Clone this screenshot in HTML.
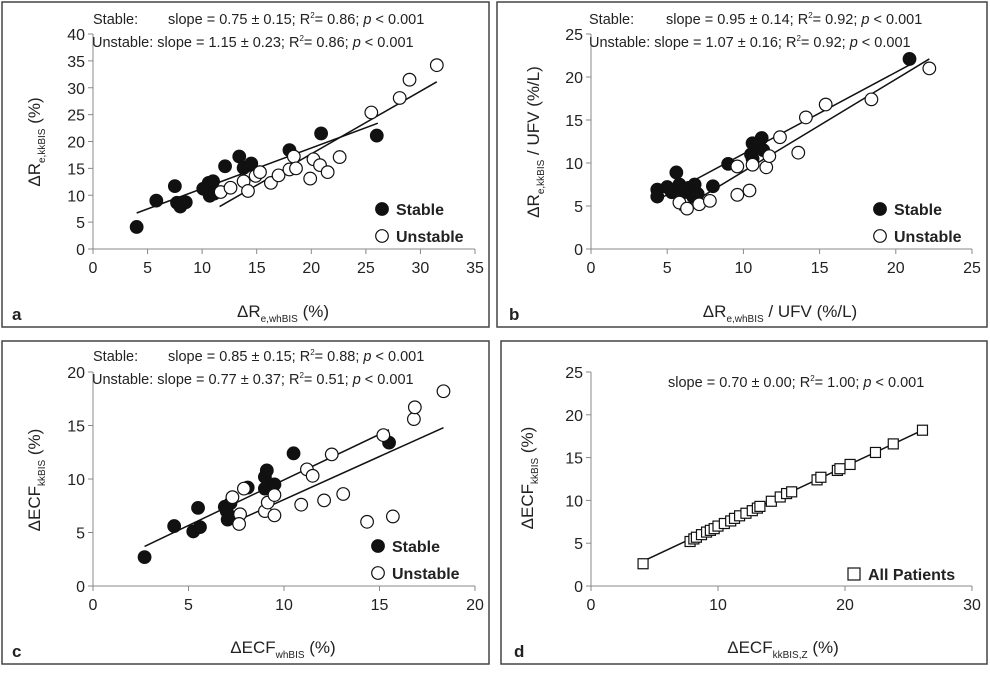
<!DOCTYPE html>
<html><head><meta charset="utf-8"><style>
body{margin:0;background:#fff;width:990px;height:668px;overflow:hidden;font-family:"Liberation Sans",sans-serif}
svg text{font-family:"Liberation Sans",sans-serif;fill:#222}
</style></head><body>
<svg id="chart" width="990" height="668"></svg>
<script>
// Panel a
const aStableX=[4.0,5.8,7.5,7.7,8.0,8.5,10.1,10.6,11.0,10.7,11.1,12.1,13.4,13.8,14.5,18.0,20.9,26.0];
const aStableY=[4.1,9.0,11.7,8.6,7.9,8.7,11.2,12.3,12.6,9.9,10.3,15.4,17.2,15.1,15.9,18.4,21.5,21.1];
const aUnstX=[11.7,12.6,13.8,14.2,14.9,15.3,16.3,17.0,18.0,18.4,18.6,19.9,20.2,20.8,21.5,22.6,25.5,28.1,29.0,31.5];
const aUnstY=[10.6,11.4,12.6,10.8,13.6,14.3,12.3,13.7,14.8,17.2,15.0,13.1,16.7,15.6,14.3,17.1,25.4,28.1,31.5,34.2];
const aFitS=[[4.0,6.7],[26.1,23.4]];
const aFitU=[[11.6,7.9],[31.5,31.1]];
// Panel b
const bStableX=[4.35,4.35,5.0,5.3,5.6,5.8,6.1,6.4,6.7,6.8,7.0,8.0,9.0,10.5,10.6,10.6,11.2,10.97,11.3,20.9];
const bStableY=[6.9,6.1,7.2,6.6,8.9,7.5,6.6,7.1,6.1,7.5,6.4,7.3,9.9,11.0,10.5,12.3,12.9,12.1,11.5,22.1];
const bUnstX=[5.8,6.3,7.1,7.8,9.6,9.6,10.4,10.6,11.5,11.7,12.4,13.6,14.1,15.4,18.4,22.2];
const bUnstY=[5.4,4.7,5.2,5.6,9.6,6.3,6.8,9.8,9.5,10.8,13.0,11.2,15.3,16.8,17.4,21.0];
const bFitS=[[4.35,5.7],[20.9,21.4]];
const bFitU=[[5.8,4.5],[22.2,22.1]];
// Panel c
const cStableX=[2.7,4.25,5.25,5.5,5.6,6.9,7.0,7.2,7.05,7.3,8.1,9.0,9.0,9.1,9.5,10.5,15.5];
const cStableY=[2.7,5.6,5.1,7.3,5.5,7.4,7.0,7.75,6.2,6.4,9.2,9.1,10.2,10.8,9.5,12.4,13.4];
const cUnstX=[7.3,7.7,7.65,7.9,9.0,9.15,9.5,9.5,10.9,11.2,11.5,12.1,12.5,13.1,14.35,15.2,15.7,16.8,16.85,18.35];
const cUnstY=[8.3,6.7,5.8,9.1,7.0,7.8,8.5,6.6,7.6,10.9,10.3,8.0,12.3,8.6,6.0,14.1,6.5,15.6,16.7,18.2];
const cFitS=[[2.7,3.7],[15.5,14.6]];
const cFitU=[[7.3,5.9],[18.35,14.8]];
// Panel d
const dAllX=[4.1,7.8,8.1,8.3,8.7,9.1,9.4,9.7,10.0,10.5,11.0,11.3,11.7,12.2,12.7,13.1,13.3,14.2,14.9,15.4,15.8,17.8,18.1,19.4,19.6,20.4,22.4,23.8,26.1];
const dAllY=[2.6,5.2,5.5,5.7,6.0,6.3,6.5,6.7,7.0,7.3,7.6,7.9,8.2,8.5,8.8,9.1,9.3,9.9,10.4,10.8,11.0,12.4,12.7,13.5,13.7,14.2,15.6,16.6,18.2];
const dFit=[[4.1,2.9],[26.1,18.2]];

const NS='http://www.w3.org/2000/svg';
const svg=document.getElementById('chart');
function el(tag,attrs,parent){const e=document.createElementNS(NS,tag);for(const k in attrs)e.setAttribute(k,attrs[k]);(parent||svg).appendChild(e);return e;}

function panel(p){
  const g=el('g',{});
  
  
  const fr=el('rect',{x:p.bx,y:p.by,width:p.bw,height:p.bh,fill:'none',stroke:'#444','stroke-width':1.5},g);
  
  
  const sx=v=>p.x0+(v-p.xmin)/(p.xmax-p.xmin)*(p.x1-p.x0);
  const sy=v=>p.y0-(v-p.ymin)/(p.ymax-p.ymin)*(p.y0-p.y1);
  const xa=el('line',{x1:p.x0,y1:p.y0,x2:p.x1,y2:p.y0,stroke:'#888','stroke-width':1},g);
  
  
  const ya=el('line',{x1:p.x0,y1:p.y0,x2:p.x0,y2:p.y1,stroke:'#888','stroke-width':1},g);
  
  
  for(let v=p.xmin;v<=p.xmax+1e-9;v+=p.xstep){
    el('line',{x1:sx(v),y1:p.y0,x2:sx(v),y2:p.y0+5,stroke:'#888'},g);
    const t=el('text',{x:sx(v),y:p.y0+24,'text-anchor':'middle','font-size':16},g);
    t.textContent=v;
    
    
  }
  for(let v=p.ymin;v<=p.ymax+1e-9;v+=p.ystep){
    el('line',{x1:p.x0-5,y1:sy(v),x2:p.x0,y2:sy(v),stroke:'#888'},g);
    const t=el('text',{x:p.x0-8,y:sy(v)+6,'text-anchor':'end','font-size':16},g);
    t.textContent=v;
    
    
  }
  p.fits.forEach(f=>{
    const l=el('line',{x1:sx(f[0][0]),y1:sy(f[0][1]),x2:sx(f[1][0]),y2:sy(f[1][1]),stroke:'#111','stroke-width':1.5},g);
    
    
  });
  p.series.forEach(s=>{
    s.x.forEach((xv,i)=>{
      let m;
      if(s.shape==='square'){
        m=el('rect',{x:sx(xv)-5,y:sy(s.y[i])-5,width:10,height:10,fill:'#fff',stroke:'#111','stroke-width':1.2},g);
      }else{
        m=el('circle',{cx:sx(xv),cy:sy(s.y[i]),r:6.3,fill:s.fill,stroke:'#111','stroke-width':1.2},g);
      }
      
      
    });
  });
  p.legend.forEach((L,i)=>{
    const ly=p.ly+i*27;
    let m;
    if(L.shape==='square') m=el('rect',{x:p.lx-6,y:ly-6,width:12,height:12,fill:'#fff',stroke:'#111','stroke-width':1.2},g);
    else m=el('circle',{cx:p.lx,cy:ly,r:6.3,fill:L.fill,stroke:'#111','stroke-width':1.2},g);
    
    
    const t=el('text',{x:p.lx+14,y:ly+6,'font-size':16,'font-weight':'bold'},g);
    t.textContent=L.label;
    
    
  });
}

const common=[{name:'stable',fill:'#111'},{name:'unstable',fill:'#fff'}];
panel({id:'a',bx:2,by:2,bw:487,bh:325,x0:93,x1:475,y0:249,y1:34,xmin:0,xmax:35,xstep:5,ymin:0,ymax:40,ystep:5,
  fits:[aFitS,aFitU],series:[{...common[0],x:aStableX,y:aStableY},{...common[1],x:aUnstX,y:aUnstY}],
  lx:382,ly:209,legend:[{fill:'#111',label:'Stable'},{fill:'#fff',label:'Unstable'}]});
panel({id:'b',bx:497,by:2,bw:490,bh:325,x0:591,x1:972,y0:249,y1:34,xmin:0,xmax:25,xstep:5,ymin:0,ymax:25,ystep:5,
  fits:[bFitS,bFitU],series:[{...common[0],x:bStableX,y:bStableY},{...common[1],x:bUnstX,y:bUnstY}],
  lx:880,ly:209,legend:[{fill:'#111',label:'Stable'},{fill:'#fff',label:'Unstable'}]});
panel({id:'c',bx:2,by:341,bw:487,bh:323,x0:93,x1:475,y0:586,y1:372,xmin:0,xmax:20,xstep:5,ymin:0,ymax:20,ystep:5,
  fits:[cFitS,cFitU],series:[{...common[0],x:cStableX,y:cStableY},{...common[1],x:cUnstX,y:cUnstY}],
  lx:378,ly:546,legend:[{fill:'#111',label:'Stable'},{fill:'#fff',label:'Unstable'}]});
panel({id:'d',bx:501,by:341,bw:486,bh:323,x0:591,x1:972,y0:586,y1:372,xmin:0,xmax:30,xstep:10,ymin:0,ymax:25,ystep:5,
  fits:[dFit],series:[{name:'all-patients',shape:'square',x:dAllX,y:dAllY}],
  lx:854,ly:574,legend:[{shape:'square',label:'All Patients'}]});
</script>
<svg width="990" height="668" style="position:absolute;left:0;top:0">
<g font-size="14.5" fill="#222">
<text x="93" y="24">Stable:</text>
<text x="168" y="24">slope = 0.75 ± 0.15; R<tspan dy="-6" font-size="8">2</tspan><tspan dy="6">= 0.86; </tspan><tspan font-style="italic">p</tspan> &lt; 0.001</text>
<text x="92" y="47">Unstable: slope = 1.15 ± 0.23; R<tspan dy="-6" font-size="8">2</tspan><tspan dy="6">= 0.86; </tspan><tspan font-style="italic">p</tspan> &lt; 0.001</text>
<text x="589" y="24">Stable:</text>
<text x="666" y="24">slope = 0.95 ± 0.14; R<tspan dy="-6" font-size="8">2</tspan><tspan dy="6">= 0.92; </tspan><tspan font-style="italic">p</tspan> &lt; 0.001</text>
<text x="589" y="47">Unstable: slope = 1.07 ± 0.16; R<tspan dy="-6" font-size="8">2</tspan><tspan dy="6">= 0.92; </tspan><tspan font-style="italic">p</tspan> &lt; 0.001</text>
<text x="93" y="361">Stable:</text>
<text x="168" y="361">slope = 0.85 ± 0.15; R<tspan dy="-6" font-size="8">2</tspan><tspan dy="6">= 0.88; </tspan><tspan font-style="italic">p</tspan> &lt; 0.001</text>
<text x="92" y="384">Unstable: slope = 0.77 ± 0.37; R<tspan dy="-6" font-size="8">2</tspan><tspan dy="6">= 0.51; </tspan><tspan font-style="italic">p</tspan> &lt; 0.001</text>
<text x="668" y="387">slope = 0.70 ± 0.00; R<tspan dy="-6" font-size="8">2</tspan><tspan dy="6">= 1.00; </tspan><tspan font-style="italic">p</tspan> &lt; 0.001</text>
</g>
<g font-size="17" fill="#222">
<text x="283" y="317" text-anchor="middle">ΔR<tspan font-size="10" dy="5">e,whBIS</tspan><tspan dy="-5"> (%)</tspan></text>
<text x="780" y="317" text-anchor="middle">ΔR<tspan font-size="10" dy="5">e,whBIS</tspan><tspan dy="-5"> / UFV (%/L)</tspan></text>
<text x="283" y="653" text-anchor="middle">ΔECF<tspan font-size="10" dy="5">whBIS</tspan><tspan dy="-5"> (%)</tspan></text>
<text x="783" y="653" text-anchor="middle">ΔECF<tspan font-size="10" dy="5">kkBIS,Z</tspan><tspan dy="-5"> (%)</tspan></text>
<text transform="translate(40,142) rotate(-90)" text-anchor="middle">ΔR<tspan font-size="10" dy="5">e,kkBIS</tspan><tspan dy="-5"> (%)</tspan></text>
<text transform="translate(539,142) rotate(-90)" text-anchor="middle">ΔR<tspan font-size="10" dy="5">e,kkBIS</tspan><tspan dy="-5"> / UFV (%/L)</tspan></text>
<text transform="translate(40,480) rotate(-90)" text-anchor="middle">ΔECF<tspan font-size="10" dy="5">kkBIS</tspan><tspan dy="-5"> (%)</tspan></text>
<text transform="translate(533,478) rotate(-90)" text-anchor="middle">ΔECF<tspan font-size="10" dy="5">kkBIS</tspan><tspan dy="-5"> (%)</tspan></text>
</g>
<g font-size="17" font-weight="bold" fill="#111">
<text x="12" y="320">a</text>
<text x="509" y="320">b</text>
<text x="12" y="657">c</text>
<text x="514" y="657">d</text>
</g>
</svg>
</body></html>
